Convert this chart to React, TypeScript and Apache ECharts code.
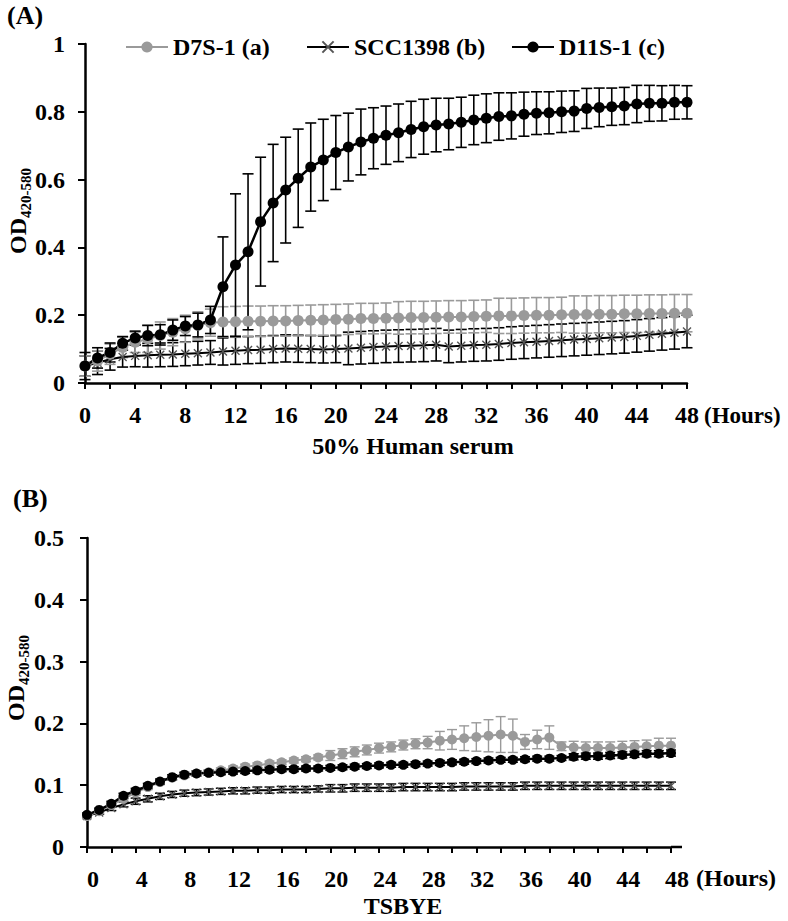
import React, { useEffect, useRef } from "react";
import * as echarts from "echarts";

const hours = [0,1,2,3,4,5,6,7,8,9,10,11,12,13,14,15,16,17,18,19,20,21,22,23,24,25,26,27,28,29,30,31,32,33,34,35,36,37,38,39,40,41,42,43,44,45,46,47,48];
const seriesNames = ["D7S-1 (a)", "SCC1398 (b)", "D11S-1 (c)"];

// Panel A: 50% Human serum
const aD7S = [0.05,0.065,0.085,0.105,0.12,0.13,0.14,0.15,0.16,0.17,0.178,0.18,0.181,0.182,0.182,0.183,0.183,0.184,0.185,0.186,0.187,0.188,0.19,0.19,0.191,0.192,0.193,0.193,0.194,0.195,0.195,0.196,0.197,0.198,0.198,0.199,0.2,0.2,0.201,0.202,0.202,0.203,0.203,0.204,0.204,0.205,0.205,0.206,0.206];
const aD7SErr = [0.03,0.03,0.03,0.03,0.03,0.04,0.04,0.04,0.04,0.04,0.04,0.045,0.045,0.045,0.045,0.045,0.045,0.045,0.045,0.045,0.045,0.045,0.045,0.045,0.045,0.048,0.048,0.048,0.048,0.048,0.048,0.048,0.048,0.052,0.052,0.052,0.052,0.052,0.052,0.055,0.055,0.055,0.055,0.055,0.055,0.055,0.055,0.055,0.055];
const aSCC = [0.05,0.06,0.07,0.077,0.08,0.082,0.083,0.084,0.086,0.088,0.09,0.093,0.095,0.097,0.098,0.1,0.102,0.101,0.1,0.099,0.1,0.102,0.104,0.106,0.108,0.109,0.11,0.111,0.113,0.108,0.11,0.112,0.113,0.115,0.118,0.12,0.122,0.124,0.126,0.128,0.13,0.132,0.134,0.136,0.139,0.142,0.145,0.148,0.152];
const aSCCErr = [0.03,0.035,0.032,0.03,0.032,0.035,0.035,0.035,0.035,0.035,0.035,0.04,0.04,0.04,0.04,0.04,0.04,0.04,0.04,0.04,0.04,0.048,0.048,0.048,0.048,0.048,0.048,0.048,0.048,0.048,0.048,0.048,0.048,0.048,0.048,0.048,0.048,0.048,0.048,0.048,0.048,0.048,0.048,0.048,0.048,0.048,0.048,0.048,0.048];
const aD11S = [0.05,0.074,0.09,0.117,0.133,0.14,0.142,0.156,0.168,0.171,0.186,0.284,0.348,0.387,0.476,0.531,0.569,0.604,0.637,0.658,0.68,0.696,0.711,0.722,0.731,0.738,0.748,0.756,0.761,0.764,0.769,0.776,0.781,0.786,0.788,0.793,0.796,0.797,0.8,0.802,0.81,0.813,0.815,0.817,0.823,0.825,0.825,0.828,0.828];
const aD11SErr = [0.04,0.03,0.028,0.02,0.02,0.03,0.03,0.03,0.028,0.035,0.04,0.147,0.21,0.23,0.19,0.173,0.156,0.145,0.13,0.12,0.109,0.1,0.097,0.09,0.086,0.085,0.083,0.081,0.079,0.076,0.074,0.073,0.072,0.07,0.068,0.065,0.063,0.062,0.061,0.06,0.059,0.057,0.055,0.055,0.055,0.053,0.052,0.05,0.049];

// Panel B: TSBYE
const bD7S = [0.05,0.058,0.068,0.078,0.088,0.097,0.105,0.112,0.116,0.119,0.121,0.124,0.127,0.13,0.132,0.135,0.137,0.14,0.142,0.145,0.148,0.151,0.154,0.157,0.16,0.162,0.165,0.167,0.169,0.172,0.174,0.176,0.178,0.18,0.182,0.18,0.17,0.174,0.177,0.163,0.161,0.16,0.16,0.16,0.161,0.162,0.163,0.164,0.164];
const bD7SErr = [0.004,0.004,0.004,0.004,0.004,0.004,0.004,0.004,0.004,0.004,0.004,0.004,0.004,0.004,0.004,0.004,0.004,0.004,0.004,0.004,0.008,0.008,0.008,0.008,0.008,0.008,0.008,0.008,0.01,0.015,0.016,0.02,0.023,0.026,0.029,0.027,0.012,0.015,0.019,0.007,0.01,0.01,0.01,0.01,0.01,0.01,0.01,0.012,0.012];
const bSCC = [0.05,0.056,0.063,0.069,0.074,0.078,0.082,0.085,0.087,0.088,0.089,0.09,0.091,0.091,0.092,0.092,0.093,0.093,0.093,0.094,0.095,0.095,0.096,0.096,0.096,0.096,0.097,0.097,0.097,0.097,0.097,0.098,0.098,0.098,0.098,0.098,0.099,0.099,0.099,0.099,0.099,0.099,0.099,0.099,0.099,0.099,0.099,0.099,0.099];
const bSCCErr = [0.003,0.003,0.004,0.004,0.005,0.005,0.005,0.005,0.005,0.005,0.005,0.005,0.005,0.005,0.005,0.005,0.005,0.005,0.005,0.005,0.006,0.006,0.006,0.006,0.006,0.006,0.006,0.006,0.006,0.006,0.006,0.006,0.006,0.006,0.006,0.006,0.006,0.006,0.006,0.006,0.006,0.006,0.006,0.006,0.006,0.006,0.006,0.006,0.006];
const bD11S = [0.052,0.06,0.07,0.083,0.091,0.099,0.106,0.113,0.117,0.119,0.12,0.121,0.122,0.123,0.124,0.125,0.126,0.126,0.127,0.127,0.128,0.129,0.13,0.131,0.132,0.133,0.133,0.134,0.135,0.136,0.137,0.138,0.139,0.14,0.141,0.141,0.142,0.143,0.143,0.144,0.146,0.147,0.147,0.148,0.149,0.15,0.151,0.151,0.152];
const bD11SErr = [0.003,0.003,0.004,0.004,0.004,0.004,0.004,0.004,0.004,0.004,0.004,0.004,0.004,0.004,0.004,0.004,0.004,0.004,0.004,0.004,0.004,0.004,0.004,0.004,0.004,0.004,0.004,0.004,0.004,0.004,0.004,0.004,0.004,0.004,0.004,0.004,0.004,0.004,0.004,0.004,0.005,0.005,0.005,0.005,0.005,0.005,0.005,0.005,0.005];

const yTicksA = [0, 0.2, 0.4, 0.6, 0.8, 1];
const yTicksB = [0, 0.1, 0.2, 0.3, 0.4, 0.5];

const FONT = "'Liberation Serif', 'Times New Roman', serif";
const GRAY = "#9a9a9a";
const BLACK = "#000000";
const XMARK = "path://M0,0L10,10M10,0L0,10";

function pairs(vals: number[]) {
  return hours.map((h, i) => [h, vals[i]]);
}
function triples(vals: number[], errs: number[]) {
  return hours.map((h, i) => [h, vals[i], errs[i]]);
}

function errorSeries(idx: number, vals: number[], errs: number[], color: string, hw: number, lw: number) {
  return {
    type: "custom",
    name: "err" + idx + color,
    xAxisIndex: idx,
    yAxisIndex: idx,
    silent: true,
    data: triples(vals, errs),
    encode: { x: 0, y: 1 },
    renderItem: (params: any, api: any) => {
      const x = api.value(0);
      const y = api.value(1);
      const e = api.value(2);
      const top = api.coord([x, y + e]);
      const bot = api.coord([x, y - e]);
      const style = { stroke: color, lineWidth: lw };
      return {
        type: "group",
        children: [
          { type: "line", shape: { x1: top[0], y1: top[1], x2: bot[0], y2: bot[1] }, style },
          { type: "line", shape: { x1: top[0] - hw, y1: top[1], x2: top[0] + hw, y2: top[1] }, style },
          { type: "line", shape: { x1: bot[0] - hw, y1: bot[1], x2: bot[0] + hw, y2: bot[1] }, style },
        ],
      };
    },
  };
}

function lineSeries(idx: number, name: string, vals: number[], kind: string, big: boolean) {
  const base: any = {
    type: "line",
    name,
    xAxisIndex: idx,
    yAxisIndex: idx,
    data: pairs(vals),
    showSymbol: true,
    symbolKeepAspect: true,
  };
  if (kind === "gray") {
    base.symbol = "circle";
    base.symbolSize = big ? 11 : 10;
    base.itemStyle = { color: GRAY, borderWidth: 0 };
    base.lineStyle = { color: GRAY, width: 2 };
  } else if (kind === "x") {
    base.symbol = XMARK;
    base.symbolSize = 8;
    base.itemStyle = { color: "#555", borderColor: "#555", borderWidth: 1.4 };
    base.lineStyle = { color: BLACK, width: 2 };
  } else {
    base.symbol = "circle";
    base.symbolSize = big ? 11 : 10;
    base.itemStyle = { color: BLACK, borderWidth: 0 };
    base.lineStyle = { color: BLACK, width: 2.5 };
  }
  return base;
}

function xAxis(idx: number, labelPad: number) {
  return {
    type: "value",
    gridIndex: idx,
    min: 0,
    max: 48,
    interval: 2,
    splitLine: { show: false },
    axisLine: { show: true, onZero: false, lineStyle: { color: BLACK, width: 2.5 } },
    axisTick: { show: true, length: 6, lineStyle: { color: BLACK, width: 2 } },
    axisLabel: {
      margin: 20,
      color: BLACK,
      fontFamily: FONT,
      fontWeight: "bold",
      fontSize: 24,
      padding: [0, 0, 0, labelPad],
      formatter: (v: number) => (v % 4 === 0 ? String(v) : ""),
      showMaxLabel: true,
    },
  };
}

function yAxis(idx: number, ticks: number[], margin: number) {
  return {
    type: "value",
    gridIndex: idx,
    min: ticks[0],
    max: ticks[ticks.length - 1],
    interval: ticks[1] - ticks[0],
    splitLine: { show: false },
    axisLine: { show: true, onZero: false, lineStyle: { color: BLACK, width: 2.5 } },
    axisTick: { show: true, length: 7, lineStyle: { color: BLACK, width: 2 } },
    axisLabel: {
      margin,
      color: BLACK,
      fontFamily: FONT,
      fontWeight: "bold",
      fontSize: 24,
      formatter: (v: number) => {
        const r = Math.round(v * 10) / 10;
        return r === 0 ? "0" : r === 1 ? "1" : r.toFixed(1);
      },
    },
  };
}

function legendItem(left: number, name: string) {
  return {
    left,
    top: 30,
    data: [name],
    itemWidth: 42,
    itemHeight: 14,
    selectedMode: false,
    textStyle: { color: BLACK, fontFamily: FONT, fontWeight: "bold", fontSize: 24 },
  };
}

const odRich = {
  a: { fontFamily: FONT, fontWeight: "bold", fontSize: 24, lineHeight: 30, fill: BLACK },
  b: { fontFamily: FONT, fontWeight: "bold", fontSize: 15, lineHeight: 15, verticalAlign: "bottom", fill: BLACK },
};

function textEl(x: number, y: number, text: string, size: number, align: string) {
  return {
    type: "text",
    x,
    y,
    silent: true,
    style: {
      text,
      fill: BLACK,
      font: `bold ${size}px ${FONT}`,
      align,
      verticalAlign: "middle",
    },
  };
}

export default function App() {
  const ref = useRef<HTMLDivElement>(null);
  useEffect(() => {
    document.body.style.margin = "0";
    const chart = echarts.init(ref.current as HTMLDivElement, null, { renderer: "svg" });
    const option: any = {
      animation: false,
      backgroundColor: "#ffffff",
      grid: [
        { left: 85, top: 44, width: 602, height: 339, outerBoundsMode: "none", containLabel: false },
        { left: 87, top: 538, width: 584, height: 309, outerBoundsMode: "none", containLabel: false },
      ],
      legend: [
        legendItem(120, seriesNames[0]),
        legendItem(301, seriesNames[1]),
        legendItem(506, seriesNames[2]),
      ],
      xAxis: [xAxis(0, 0), xAxis(1, 12)],
      yAxis: [yAxis(0, yTicksA, 20), yAxis(1, yTicksB, 23)],
      series: [
        errorSeries(0, aSCC, aSCCErr, BLACK, 5.5, 1.6),
        lineSeries(0, seriesNames[1], aSCC, "x", true),
        errorSeries(0, aD7S, aD7SErr, GRAY, 5.5, 1.6),
        lineSeries(0, seriesNames[0], aD7S, "gray", true),
        errorSeries(0, aD11S, aD11SErr, BLACK, 5.5, 1.6),
        lineSeries(0, seriesNames[2], aD11S, "black", true),
        errorSeries(1, bSCC, bSCCErr, BLACK, 5, 1.4),
        lineSeries(1, seriesNames[1], bSCC, "x", false),
        errorSeries(1, bD7S, bD7SErr, GRAY, 5, 1.4),
        lineSeries(1, seriesNames[0], bD7S, "gray", false),
        errorSeries(1, bD11S, bD11SErr, BLACK, 5, 1.4),
        lineSeries(1, seriesNames[2], bD11S, "black", false),
      ],
      graphic: [
        textEl(7, 15, "(A)", 26, "left"),
        textEl(13, 498, "(B)", 26, "left"),
        textEl(704, 415, "(Hours)", 23, "left"),
        textEl(696, 878, "(Hours)", 24, "left"),
        textEl(413, 446, "50% Human serum", 24, "center"),
        textEl(403, 906, "TSBYE", 24, "center"),
        {
          type: "line",
          silent: true,
          shape: { x1: 671, y1: 847, x2: 682, y2: 847 },
          style: { stroke: BLACK, lineWidth: 2.5 },
        },
        {
          type: "text",
          x: 18,
          y: 211,
          rotation: Math.PI / 2,
          silent: true,
          style: { text: "{a|OD}{b|420-580}", rich: odRich, align: "center", verticalAlign: "middle", fill: BLACK },
        },
        {
          type: "text",
          x: 16,
          y: 678,
          rotation: Math.PI / 2,
          silent: true,
          style: { text: "{a|OD}{b|420-580}", rich: odRich, align: "center", verticalAlign: "middle", fill: BLACK },
        },
      ],
    };
    chart.setOption(option);
    return () => chart.dispose();
  }, []);
  return <div ref={ref} style={{ position: "absolute", left: 0, top: 0, width: 788, height: 921 }} />;
}
